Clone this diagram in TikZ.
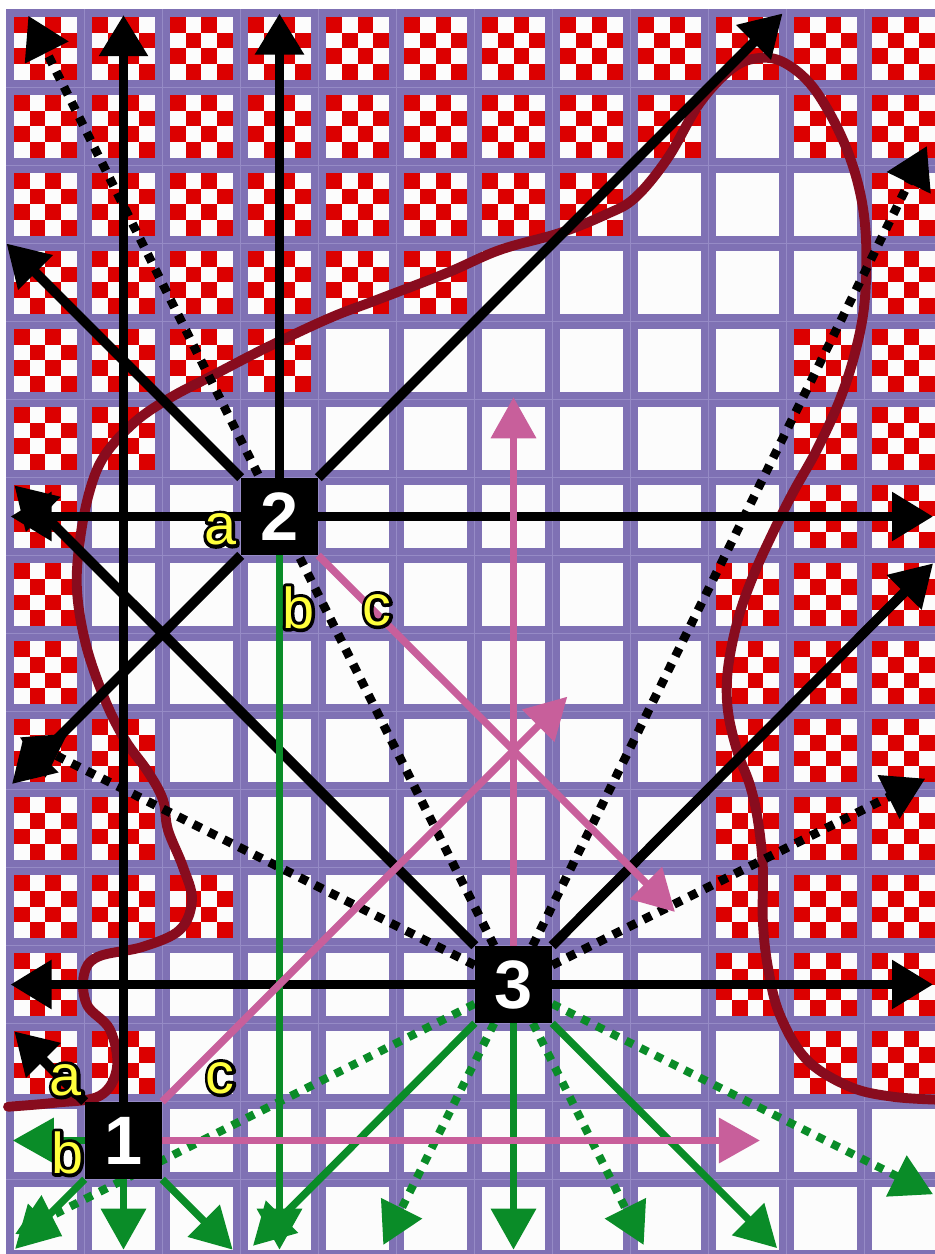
\documentclass[tikz,border=0pt]{standalone}
\usepackage{fontspec}
\setmainfont{Liberation Sans}
\usetikzlibrary{arrows.meta}

\definecolor{barpurple}{RGB}{127,113,180}
\definecolor{seamline}{RGB}{150,139,198}
\definecolor{chkred}{RGB}{220,0,0}
\definecolor{curvered}{RGB}{136,12,30}
\definecolor{grn}{RGB}{10,140,40}
\definecolor{pnk}{RGB}{200,95,155}
\definecolor{lblyellow}{RGB}{255,255,60}

\pgfdeclarelayer{front}
\pgfsetlayers{main,front}

% yellow letters with a black rim
\newcommand{\outl}[1]{\rlap{\special{pdf:literal direct 1 Tr 2.4 w 1 j 0 0 0 RG}#1\special{pdf:literal direct 0 Tr}}#1}

\tikzset{
  blk/.style={line width=3.6pt, -{Triangle[length=15pt,width=17pt]}},
  blkdot/.style={line width=3.2pt, dash pattern=on 3.2pt off 3pt, -{Triangle[length=15pt,width=17pt]}},
  grnarr/.style={grn, line width=2.7pt, -{Triangle[length=15pt,width=16pt]}},
  grndot/.style={grnarr, line width=3pt, dash pattern=on 3pt off 3pt},
  pnkarr/.style={pnk, line width=2.7pt, -{Triangle[length=15pt,width=16pt]}},
  cellnode/.style={fill=black, minimum size=0.98cm, inner sep=0pt, text=white, font=\bfseries\fontsize{25}{25}\selectfont},
  lbl/.style={text=lblyellow, inner sep=0pt, font=\fontsize{21}{21}\selectfont}
}

\begin{document}
\begin{tikzpicture}

\useasboundingbox (-0.0833,0.1218) rectangle (11.9038,-15.9551);
\clip (-0.0833,0.1218) rectangle (11.9038,-15.9551);

% grid
\fill[barpurple] (0,0) rectangle (12,-16);
\foreach \k in {1,...,11}
  \draw[seamline, line width=0.3pt] (\k,0) -- (\k,-16);
\foreach \k in {1,...,15}
  \draw[seamline, line width=0.3pt] (0,-\k) -- (12,-\k);
\foreach \r in {0,...,15}
  \foreach \c in {0,...,11}
    \fill[white!98!gray] (\c+0.096,-\r-0.096) rectangle (\c+0.904,-\r-0.904);

% checkered cells, row/columns
\foreach \r/\cols in {0/{0,...,11}, 1/{0,...,8,10,11}, 2/{0,...,7,11}, 3/{0,...,5,11},
    4/{0,1,2,3,10,11}, 5/{0,1,10,11}, 6/{0,10,11}, 7/{0,9,10,11}, 8/{0,9,10,11},
    9/{0,1,9,10,11}, 10/{0,1,9,10,11}, 11/{0,1,2,9,10,11}, 12/{0,9,10,11}, 13/{0,1,10,11}}
  \foreach \c in \cols
    \foreach \i/\j in {0/0,2/0,1/1,3/1,0/2,2/2,1/3,3/3}
      \fill[chkred] (\c+0.096+0.202*\i,-\r-0.096-0.202*\j) rectangle ++(0.202,-0.202);

% boundary curve
\begin{scope}[shift={(-0.0833,0.1218)}, x=0.012821cm, y=-0.012821cm]
\draw[curvered, line width=3.6pt, line cap=round] plot[smooth, tension=0.6] coordinates {
  (8,1107) (55,1103) (100,1096) (117,1068) (110,1030) (87,1005) (84,975) (98,957)
  (143,947) (180,930) (192,900) (183,867) (168,830) (163,800) (148,772) (125,740)
  (105,700) (86,645) (77,590) (80,540) (90,490) (105,455) (135,422) (170,398)
  (210,377) (268,347) (330,318) (377,300) (447,273) (500,250) (560,233) (605,215)
  (635,198) (668,158) (700,103) (733,68) (760,58) (785,63) (813,87) (840,133)
  (858,183) (866,235) (865,300) (856,350) (840,400) (817,450) (793,493) (773,533)
  (753,577) (738,620) (728,670) (728,710) (737,750) (750,785) (758,820) (763,867)
  (763,920) (768,967) (780,1015) (807,1060) (850,1087) (893,1097) (940,1100)};
\end{scope}

% the three cells
\begin{pgfonlayer}{front}
\node[cellnode] (n1) at (1.5,-14.5) {1};
\node[cellnode] (n2) at (3.5,-6.5) {2};
\node[cellnode] (n3) at (6.5,-12.5) {3};

\node[lbl] (la1) at (0.76,-13.73) {\outl{a}};
\node[lbl] (lb1) at (0.78,-14.66) {\outl{b}};
\node[lbl] (lc1) at (2.74,-13.70) {\outl{c}};
\node[lbl] (la2) at (2.74,-6.67) {\outl{a}};
\node[lbl] (lb2) at (3.74,-7.67) {\outl{b}};
\node[lbl] (lc2) at (4.75,-7.70) {\outl{c}};
\end{pgfonlayer}

% arrow ends
\coordinate (e1n) at (1.5,-0.07);
\coordinate (e1nw) at (0.1,-13.1);
\coordinate (e1w) at (0.08,-14.5);
\coordinate (e1ne) at (7.19,-8.81);
\coordinate (e1e) at (9.66,-14.5);
\coordinate (e1sw) at (0.11,-15.89);
\coordinate (e1s) at (1.5,-15.9);
\coordinate (e1se) at (2.9,-15.9);

\coordinate (e2n) at (3.5,-0.05);
\coordinate (e2nw) at (0.0,-3.0);
\coordinate (e2w) at (0.05,-6.5);
\coordinate (e2sw) at (0.07,-9.93);
\coordinate (e2e) at (11.88,-6.5);
\coordinate (e2ne) at (9.95,-0.05);
\coordinate (e2s) at (3.5,-15.9);
\coordinate (e2se) at (8.57,-11.57);

\coordinate (e3w) at (0.05,-12.5);
\coordinate (e3e) at (11.88,-12.5);
\coordinate (e3nw) at (0.1,-6.1);
\coordinate (e3ne) at (11.88,-7.1);
\coordinate (e3nnw) at (0.28,-0.08);
\coordinate (e3wnw) at (0.17,-9.33);
\coordinate (e3nne) at (11.8,-1.75);
\coordinate (e3ene) at (11.78,-9.86);
\coordinate (e3n) at (6.5,-4.97);
\coordinate (e3sw) at (3.16,-15.85);
\coordinate (e3s) at (6.5,-15.9);
\coordinate (e3se) at (9.88,-15.88);
\coordinate (e3wsw) at (0.11,-15.7);
\coordinate (e3ssw) at (4.83,-15.84);
\coordinate (e3sse) at (8.17,-15.84);
\coordinate (e3ese) at (11.88,-15.19);

% black dotted
\draw[blkdot] (n3) -- (e3nnw);
\draw[blkdot] (n3) -- (e3wnw);
\draw[blkdot] (n3) -- (e3nne);
\draw[blkdot] (n3) -- (e3ene);

% black
\draw[blk] (n1) -- (e1n);
\draw[blk] (n1) -- (e1nw);
\draw[blk] (n2) -- (e2n);
\draw[blk] (n2) -- (e2nw);
\draw[blk] (n2) -- (e2w);
\draw[blk] (n2) -- (e2sw);
\draw[blk] (n2) -- (e2e);
\draw[blk] (n2) -- (e2ne);
\draw[blk] (n3) -- (e3w);
\draw[blk] (n3) -- (e3e);
\draw[blk] (n3) -- (e3nw);
\draw[blk] (n3) -- (e3ne);

% green
\draw[grndot] (n3) -- (e3wsw);
\draw[grndot] (n3) -- (e3ssw);
\draw[grndot] (n3) -- (e3sse);
\draw[grndot] (n3) -- (e3ese);
\draw[grnarr] (n1) -- (e1w);
\draw[grnarr] (n1) -- (e1sw);
\draw[grnarr] (n1) -- (e1s);
\draw[grnarr] (n1) -- (e1se);
\draw[grnarr] (n2) -- (e2s);
\draw[grnarr] (n3) -- (e3sw);
\draw[grnarr] (n3) -- (e3s);
\draw[grnarr] (n3) -- (e3se);

% pink
\draw[pnkarr] (n1) -- (e1ne);
\draw[pnkarr] (n1) -- (e1e);
\draw[pnkarr] (n2) -- (e2se);
\draw[pnkarr] (n3) -- (e3n);

\end{tikzpicture}
\end{document}
